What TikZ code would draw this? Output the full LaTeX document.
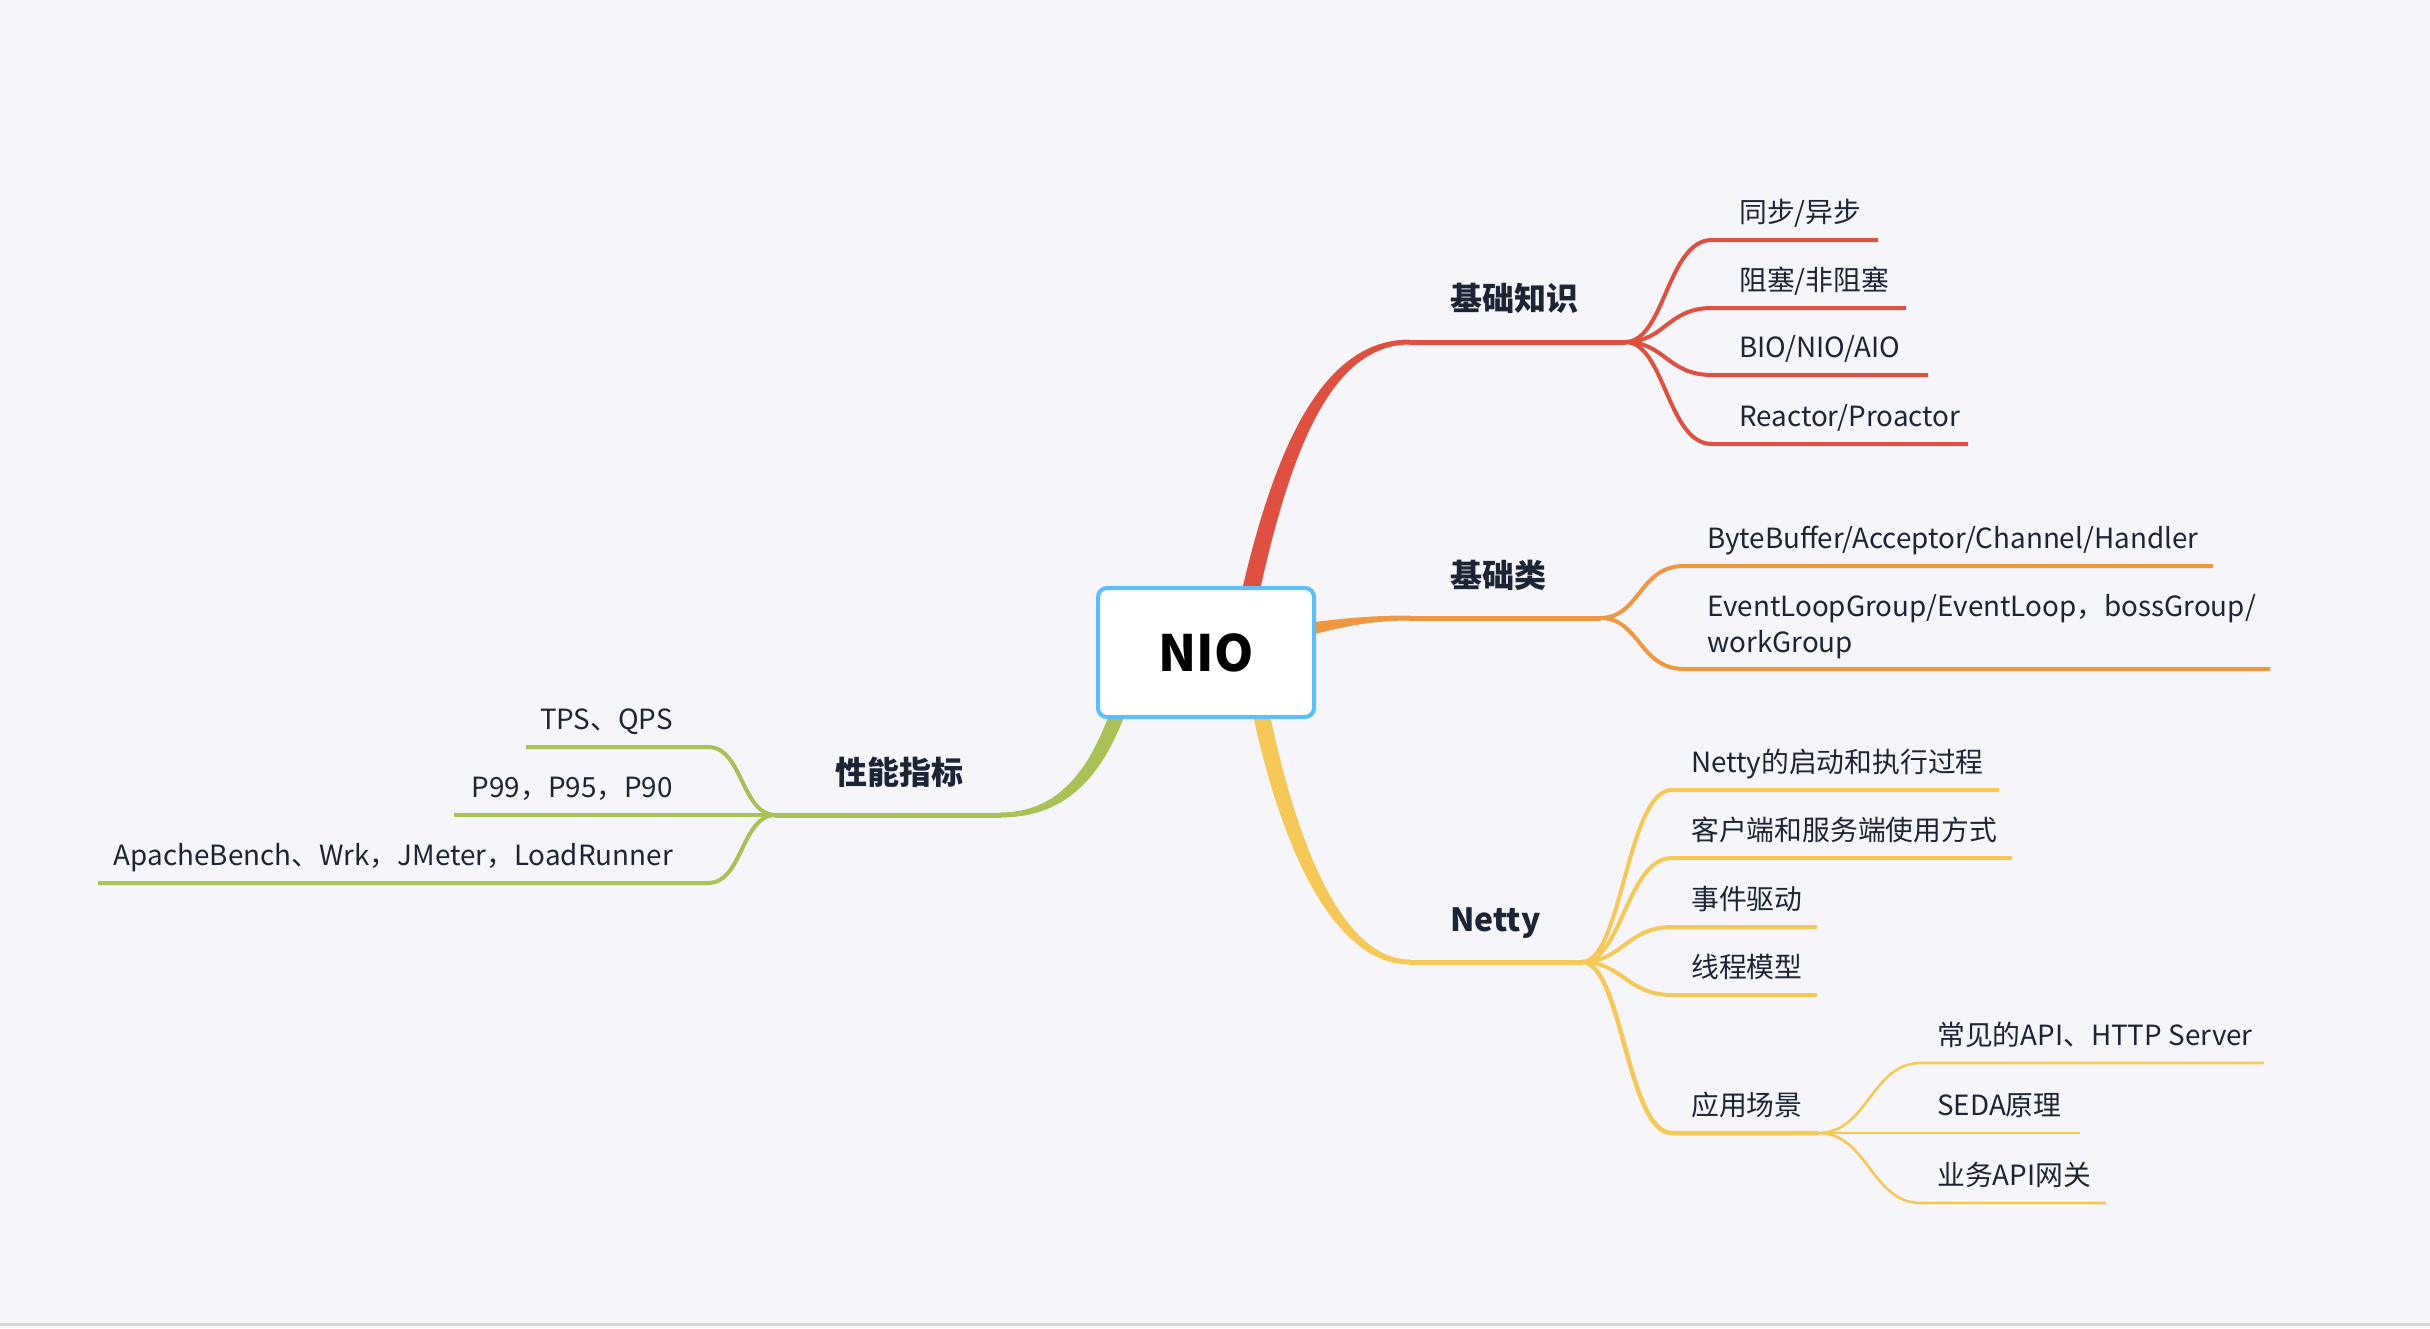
\documentclass[tikz,border=0pt]{standalone}
\usepackage{fontspec}
\setmainfont{Noto Sans CJK SC}
\definecolor{bgc}{RGB}{245,245,250}
\definecolor{cR}{RGB}{224,80,64}
\definecolor{cO}{RGB}{238,152,68}
\definecolor{cY}{RGB}{246,200,88}
\definecolor{cG}{RGB}{168,194,88}
\definecolor{cB}{RGB}{92,190,250}
\definecolor{txt}{RGB}{28,37,54}
\tikzset{
  leaf/.style={inner sep=0pt, anchor=base west, text=txt, font=\fontsize{27.8}{32}\selectfont},
  leafr/.style={leaf, anchor=base east},
  topic/.style={inner sep=0pt, anchor=base west, text=txt, font=\fontsize{32}{36}\selectfont\bfseries},
  lvone/.style={line width=5pt, line cap=round},
  lvtwo/.style={line width=4pt},
  lvthree/.style={line width=2.6pt},
}
\begin{document}
\begin{tikzpicture}[x=1pt,y=-1pt]
\fill[bgc] (0,0) rectangle (2430,1328);
\useasboundingbox (0,0) rectangle (2430,1328);
\fill[black!16] (0,1323) rectangle (2430,1326);
\fill[black!4] (0,1326) rectangle (2430,1328);

% ---------- named anchor points ----------
\coordinate (rS) at (1410,342);
\coordinate (rF) at (1625,342);
\coordinate (oS) at (1410,618);
\coordinate (oF) at (1600,618);
\coordinate (yS) at (1410,962);
\coordinate (yF) at (1582,962);
\coordinate (gS) at (1000,815);
\coordinate (gF) at (776,815);
\coordinate (aF) at (1818,1133);

% ---------- tapered main branches ----------
\fill[cR] (1242,590) .. controls (1277,440) and (1325,339.5) .. (1410,339.5)
  -- (1410,344.5) .. controls (1335,344.5) and (1293,440) .. (1260,590) -- cycle;
\fill[cO] (1300,624) .. controls (1350,617) and (1380,615.5) .. (1410,615.5)
  -- (1410,620.5) .. controls (1380,620.5) and (1350,624) .. (1300,638) -- cycle;
\fill[cY] (1250,700) .. controls (1274,822) and (1325,964.5) .. (1410,964.5)
  -- (1410,959.5) .. controls (1335,959.5) and (1290,818) .. (1267,700) -- cycle;
\fill[cG] (1114,700) .. controls (1090,775) and (1055,812.5) .. (1000,812.5)
  -- (1000,817.5) .. controls (1060,817.5) and (1102,785) .. (1130,700) -- cycle;

% ---------- central node ----------
\node[draw=cB, line width=4pt, fill=white, rounded corners=9pt,
      minimum width=216pt, minimum height=129pt, inner sep=0pt,
      text=black, font=\fontsize{50}{56}\selectfont\bfseries] (nio) at (1206,652.5) {NIO};

% ---------- 基础知识 ----------
\node[topic] (t1) at (1450,310) {基础知识};
\draw[cR, lvone] (rS) -- (rF);
\node[leaf] (r1) at (1739,222) {同步/异步};
\node[leaf] (r2) at (1739,290) {阻塞/非阻塞};
\node[leaf] (r3) at (1739,357) {BIO/NIO/AIO};
\node[leaf] (r4) at (1739,426) {Reactor/Proactor};
\coordinate (r1e) at (1878,240);
\coordinate (r2e) at (1906,308);
\coordinate (r3e) at (1928,375);
\coordinate (r4e) at (1968,444);
\foreach \e in {r1e,r2e,r3e,r4e}{
  \draw[cR, lvtwo] (rF) .. controls +(40,0) and +(-45,0) .. (1712,0 |- \e) -- (\e);
}

% ---------- 基础类 ----------
\node[topic] (t2) at (1450,587) {基础类};
\draw[cO, lvone] (oS) -- (oF);
\node[leaf] (o1) at (1707,548) {ByteBuffer/Acceptor/Channel/Handler};
\node[leaf] (o2a) at (1707,616) {EventLoopGroup/EventLoop，bossGroup/};
\node[leaf] (o2b) at (1707,652) {workGroup};
\coordinate (o1e) at (2213,566);
\coordinate (o2e) at (2270,669);
\foreach \e in {o1e,o2e}{
  \draw[cO, lvtwo] (oF) .. controls +(40,0) and +(-45,0) .. (1684,0 |- \e) -- (\e);
}

% ---------- Netty ----------
\node[topic] (t3) at (1450,931) {Netty};
\draw[cY, lvone] (yS) -- (yF);
\node[leaf] (y1) at (1691,772) {Netty的启动和执行过程};
\node[leaf] (y2) at (1691,840) {客户端和服务端使用方式};
\node[leaf] (y3) at (1691,909) {事件驱动};
\node[leaf] (y4) at (1691,977) {线程模型};
\node[leaf] (y5) at (1691,1115) {应用场景};
\coordinate (y1e) at (1999,790);
\coordinate (y2e) at (2012,858);
\coordinate (y3e) at (1817,927);
\coordinate (y4e) at (1817,995);
\foreach \e in {y1e,y2e,y3e,y4e}{
  \draw[cY, lvtwo] (yF) .. controls +(40,0) and +(-45,0) .. (1672,0 |- \e) -- (\e);
}
\draw[cY, line width=4.5pt] (yF) .. controls +(40,0) and +(-45,0) .. (1672,1133) -- (aF);

\node[leaf] (a1) at (1937,1045) {常见的API、HTTP Server};
\node[leaf] (a2) at (1937,1115) {SEDA原理};
\node[leaf] (a3) at (1937,1185) {业务API网关};
\coordinate (a1e) at (2264,1063);
\coordinate (a2e) at (2080,1133);
\coordinate (a3e) at (2106,1203);
\draw[cY, lvthree] (aF) .. controls +(50,0) and +(-50,0) .. (1921,1063) -- (a1e);
\draw[cY, lvthree] (aF) -- (a2e);
\draw[cY, lvthree] (aF) .. controls +(50,0) and +(-50,0) .. (1921,1203) -- (a3e);

% ---------- 性能指标 ----------
\node[topic] (t4) at (835,784) {性能指标};
\draw[cG, lvone] (gS) -- (gF);
\node[leafr] (g1) at (673,729) {TPS、QPS};
\node[leafr] (g2) at (673,797) {P99，P95，P90};
\node[leafr] (g3) at (673,865) {ApacheBench、Wrk，JMeter，LoadRunner};
\coordinate (g1e) at (526,747);
\coordinate (g2e) at (454,815);
\coordinate (g3e) at (98,883);
\draw[cG, lvtwo] (gF) .. controls +(-35,0) and +(35,0) .. (708,747) -- (g1e);
\draw[cG, lvtwo] (gF) -- (g2e);
\draw[cG, lvtwo] (gF) .. controls +(-35,0) and +(35,0) .. (708,883) -- (g3e);
\end{tikzpicture}
\end{document}
